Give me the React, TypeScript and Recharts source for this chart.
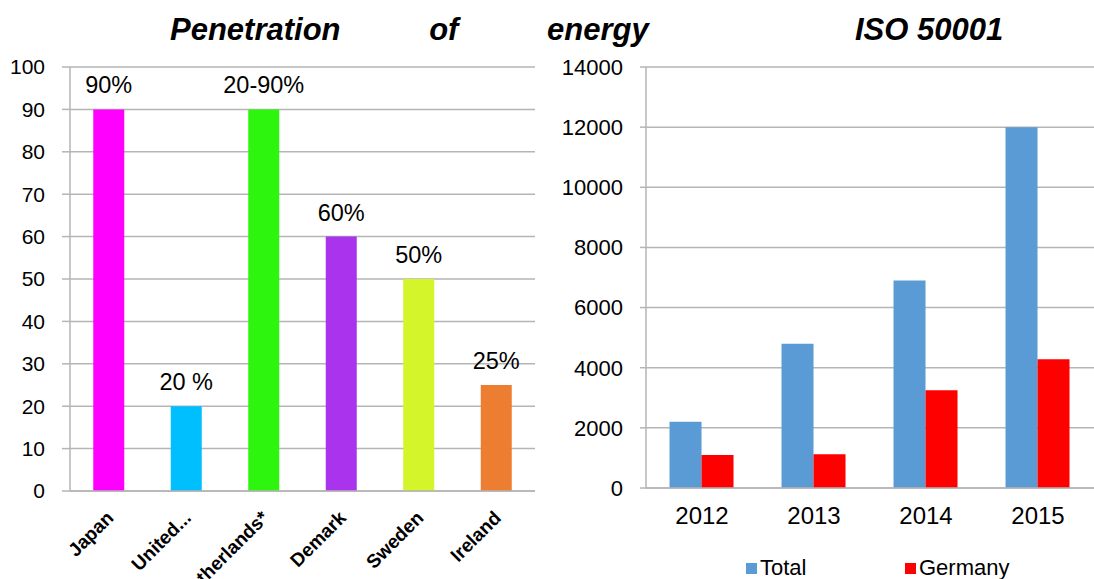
import { Bar, BarChart, CartesianGrid, Cell, LabelList, Legend, XAxis, YAxis } from "recharts";

const countries = ["Japan", "United...", "Netherlands*", "Demark", "Sweden", "Ireland"];
const penetration = [90, 20, 90, 60, 50, 25];
const penetrationLabels = ["90%", "20\u00a0%", "20-90%", "60%", "50%", "25%"];
const countryColors = ["#FF00FF", "#00BFFF", "#2EF50E", "#AA33EE", "#D4F52A", "#ED7D31"];
const penetrationTicks = [0, 10, 20, 30, 40, 50, 60, 70, 80, 90, 100];

const years = ["2012", "2013", "2014", "2015"];
const totalCerts = [2200, 4800, 6900, 12000];
const germanyCerts = [1100, 1120, 3250, 4280];
const isoTicks = [0, 2000, 4000, 6000, 8000, 10000, 12000, 14000];
const seriesNames = ["Total", "Germany"];

const font = '"Liberation Sans", Arial, sans-serif';
const grey = "#b5b5b5";

const penetrationData = countries.map((country, i) => ({
  country,
  value: penetration[i],
  label: penetrationLabels[i],
}));

const isoData = years.map((year, i) => ({
  year,
  total: totalCerts[i],
  germany: germanyCerts[i],
}));

function CountryTick({ x, y, payload }: any) {
  const ax = x + 6;
  const ay = y + 27;
  return (
    <text
      x={ax}
      y={ay}
      textAnchor="end"
      transform={`rotate(-45 ${ax} ${ay})`}
      fontSize={19}
      fontWeight="bold"
      fill="#000"
    >
      {payload.value}
    </text>
  );
}

function IsoLegend({ payload }: any) {
  const items = [...(payload || [])].sort(
    (a: any, b: any) => seriesNames.indexOf(a.value) - seriesNames.indexOf(b.value)
  );
  return (
    <div style={{ display: "flex", paddingLeft: 198, paddingTop: 8, height: 30, boxSizing: "border-box" }}>
      {items.map((p: any) => (
        <div
          key={p.value}
          style={{ width: 159, display: "flex", alignItems: "center", fontFamily: font, fontSize: 22, lineHeight: "22px", color: "#000" }}
        >
          <span style={{ display: "inline-block", width: 11, height: 11, background: p.color, marginRight: 3 }} />
          {p.value}
        </div>
      ))}
    </div>
  );
}

const titleStyle = {
  position: "absolute" as const,
  top: 14,
  fontFamily: font,
  fontSize: 31,
  lineHeight: "31px",
  fontWeight: "bold",
  fontStyle: "italic",
  whiteSpace: "nowrap" as const,
};

export default function App() {
  return (
    <div style={{ position: "absolute", left: 0, top: 0, width: 1094, height: 579, background: "#fff", overflow: "hidden" }}>
      <div style={{ ...titleStyle, left: 170, wordSpacing: 80 }}>Penetration of energy</div>
      <div style={{ ...titleStyle, left: 855 }}>ISO 50001</div>

      <div style={{ position: "absolute", left: 0, top: 0 }}>
        <BarChart
          width={545}
          height={579}
          data={penetrationData}
          margin={{ top: 67, right: 10, bottom: 0, left: 0 }}
          barCategoryGap="30%"
          style={{ fontFamily: font }}
        >
          <CartesianGrid vertical={false} stroke={grey} strokeWidth={1.5} xAxisId="b" />
          <XAxis
            xAxisId="b"
            dataKey="country"
            axisLine={false}
            tickLine={false}
            tickSize={0}
            tickMargin={0}
            interval={0}
            height={87}
            tick={<CountryTick />}
          />
          <XAxis
            xAxisId="a"
            type="number"
            domain={[0, countries.length]}
            ticks={countries.map((_, i) => i).concat(countries.length)}
            allowDataOverflow
            tick={false}
            height={1}
            tickSize={8}
            stroke={grey}
            strokeWidth={1.5}
          />
          <YAxis
            domain={[0, 100]}
            ticks={penetrationTicks}
            width={70}
            tickSize={8}
            tickMargin={17}
            stroke={grey}
            strokeWidth={1.5}
            tick={{ fill: "#000", fontSize: 21 }}
          />
          <Bar dataKey="value" xAxisId="b" isAnimationActive={false}>
            {penetrationData.map((d, i) => (
              <Cell key={d.country} fill={countryColors[i]} />
            ))}
            <LabelList dataKey="label" position="top" offset={16} fill="#000" fontSize={23.5} />
          </Bar>
        </BarChart>
      </div>

      <div style={{ position: "absolute", left: 548, top: 0 }}>
        <BarChart
          width={546}
          height={579}
          data={isoData}
          margin={{ top: 67, right: 0, bottom: 0, left: 0 }}
          barCategoryGap="21%"
          barGap={0}
          style={{ fontFamily: font }}
        >
          <CartesianGrid vertical={false} stroke={grey} strokeWidth={1.5} xAxisId="b" />
          <XAxis
            xAxisId="b"
            dataKey="year"
            axisLine={false}
            tickLine={false}
            tickSize={0}
            tickMargin={18}
            interval={0}
            height={60}
            tick={{ fill: "#000", fontSize: 24 }}
          />
          <XAxis
            xAxisId="a"
            type="number"
            domain={[0, years.length]}
            ticks={years.map((_, i) => i).concat(years.length)}
            allowDataOverflow
            tick={false}
            height={1}
            tickSize={7}
            stroke={grey}
            strokeWidth={1.5}
          />
          <YAxis
            domain={[0, 14000]}
            ticks={isoTicks}
            width={98}
            tickSize={6}
            tickMargin={17}
            stroke={grey}
            strokeWidth={1.5}
            tick={{ fill: "#000", fontSize: 22 }}
          />
          <Legend
            verticalAlign="bottom"
            align="left"
            height={30}
            content={<IsoLegend />}
            wrapperStyle={{ left: 0, bottom: 0, width: 546, height: 30 }}
          />
          <Bar dataKey="total" name="Total" xAxisId="b" fill="#5B9BD5" isAnimationActive={false} />
          <Bar dataKey="germany" name="Germany" xAxisId="b" fill="#FF0000" isAnimationActive={false} />
        </BarChart>
      </div>
    </div>
  );
}
